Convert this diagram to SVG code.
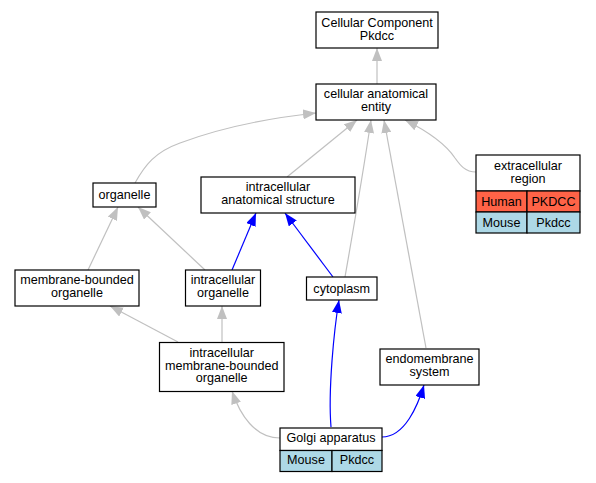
<svg xmlns="http://www.w3.org/2000/svg" width="596" height="483" viewBox="0 0 596 483">
<defs>
<marker id="ag" markerUnits="userSpaceOnUse" markerWidth="13" markerHeight="10" refX="13" refY="5" orient="auto"><path d="M0,0 L13,5 L0,10 z" fill="#c0c0c0"/></marker>
<marker id="ab" markerUnits="userSpaceOnUse" markerWidth="13" markerHeight="10" refX="13" refY="5" orient="auto"><path d="M0,0 L13,5 L0,10 z" fill="#0000ff"/></marker>
<style>
.n{fill:#fff;stroke:#000;stroke-width:1.2}
.h{fill:#ff6347;stroke:#000;stroke-width:1.2}
.m{fill:#add8e6;stroke:#000;stroke-width:1.2}
text{font-family:"Liberation Sans",Arial,sans-serif;font-size:12.6px;text-anchor:middle;fill:#000}
.g{fill:none;stroke:#c0c0c0;stroke-width:1.2;marker-end:url(#ag)}
.b{fill:none;stroke:#0000ff;stroke-width:1.2;marker-end:url(#ab)}
</style>
</defs>
<rect width="596" height="483" fill="#fff"/>
<g id="edges">
<path class="g" d="M377,84 L377,48"/>
<path class="g" d="M135,183 C145,165 155,152 180,143 C220,128 270,118 316,113"/>
<path class="g" d="M287,177 L357,120"/>
<path class="g" d="M345,277 C355,220 365,160 371,120"/>
<path class="g" d="M426,348 L384,120"/>
<path class="g" d="M476,172 C465,172 460,165 455,158 C445,143 425,130 405,120"/>
<path class="g" d="M88,270 L118,207"/>
<path class="g" d="M205,270 L138,207"/>
<path class="b" d="M232,270 L256,213"/>
<path class="b" d="M333,277 L285,213"/>
<path class="g" d="M178,342 L110,306"/>
<path class="g" d="M222,342 L222,306"/>
<path class="g" d="M280,438 C255,438 240,415 232,391"/>
<path class="b" d="M331,427 C328,390 334,330 339,300"/>
<path class="b" d="M382,437 C405,437 418,405 424,385"/>
</g>
<g id="cc"><rect class="n" x="316" y="12" width="122" height="36"/><text x="377" y="27">Cellular Component</text><text x="377" y="40">Pkdcc</text></g>
<g id="cae"><rect class="n" x="316" y="84" width="120" height="36"/><text x="376" y="98">cellular anatomical</text><text x="376" y="111">entity</text></g>
<g id="ext"><rect class="n" x="476" y="155" width="104" height="36"/><text x="528" y="169.5">extracellular</text><text x="528" y="182.5">region</text>
<rect class="h" x="476" y="191" width="51" height="21"/><rect class="h" x="527" y="191" width="53" height="21"/><text x="501.5" y="205.5">Human</text><text x="553.5" y="205.5">PKDCC</text>
<rect class="m" x="476" y="212" width="51" height="21"/><rect class="m" x="527" y="212" width="53" height="21"/><text x="501.5" y="226.5">Mouse</text><text x="553.5" y="226.5">Pkdcc</text></g>
<g id="organelle"><rect class="n" x="93" y="183" width="63" height="24"/><text x="124.5" y="199">organelle</text></g>
<g id="ias"><rect class="n" x="201" y="177" width="154" height="36"/><text x="278" y="191">intracellular</text><text x="278" y="204">anatomical structure</text></g>
<g id="mbo"><rect class="n" x="15" y="270" width="124" height="36"/><text x="77" y="284">membrane-bounded</text><text x="77" y="297">organelle</text></g>
<g id="io"><rect class="n" x="185.5" y="270" width="75" height="36"/><text x="223" y="284">intracellular</text><text x="223" y="297">organelle</text></g>
<g id="cyto"><rect class="n" x="306.5" y="277" width="70.5" height="23"/><text x="341.7" y="292.5">cytoplasm</text></g>
<g id="endo"><rect class="n" x="380" y="349" width="99" height="36"/><text x="429.5" y="363">endomembrane</text><text x="429.5" y="376">system</text></g>
<g id="imbo"><rect class="n" x="159.5" y="342.5" width="124.5" height="49"/><text x="221.7" y="357">intracellular</text><text x="221.7" y="369.5">membrane-bounded</text><text x="221.7" y="382">organelle</text></g>
<g id="golgi"><rect class="n" x="280" y="428" width="102" height="22.5"/><text x="331" y="442">Golgi apparatus</text>
<rect class="m" x="280" y="450.5" width="52" height="21"/><rect class="m" x="332" y="450.5" width="50" height="21"/><text x="306" y="464">Mouse</text><text x="357" y="464">Pkdcc</text></g>
</svg>
